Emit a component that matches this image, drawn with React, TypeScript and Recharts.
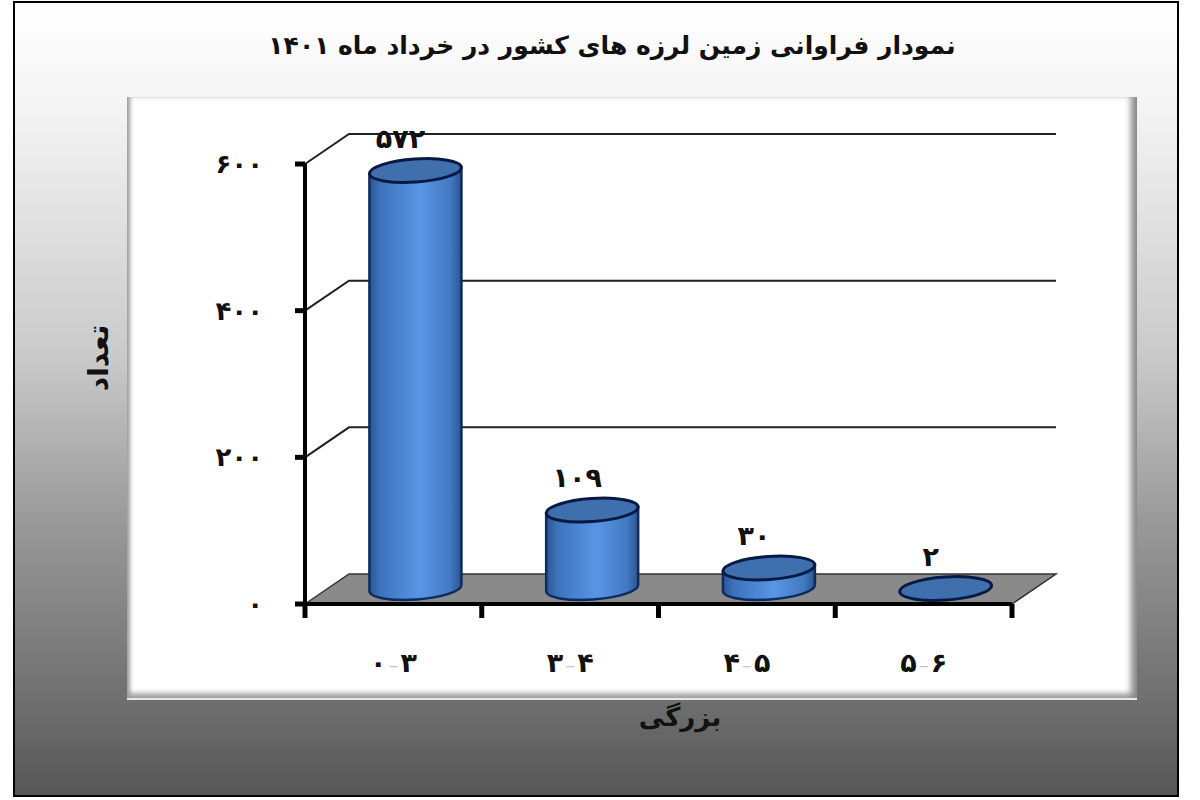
import React from "react";
import { BarChart, Bar, XAxis, YAxis, CartesianGrid, LabelList, Label } from "recharts";

const categories = ["۰-۳", "۳-۴", "۴-۵", "۵-۶"];
const counts = [572, 109, 30, 2];
const countLabels = ["۵۷۲", "۱۰۹", "۳۰", "۲"];
const yTicks = [0, 200, 400, 600];
const yTickLabels = ["۰", "۲۰۰", "۴۰۰", "۶۰۰"];
const titleText = "نمودار فراوانی زمین لرزه های کشور در خرداد ماه ۱۴۰۱";
const xTitle = "بزرگی";
const yTitle = "تعداد";

const data = categories.map((c, i) => ({ category: c, count: counts[i] }));

const FONT = "'DejaVu Sans', sans-serif";
const DX = 44;
const DY = 30;

function Grid(props: any) {
  const { x1, x2, y1, y2, index } = props;
  const isFloor = y1 > 600;
  if (isFloor) {
    const n = categories.length;
    const step = (x2 - x1) / n;
    return (
      <g key={`floor-${index}`}>
        <polygon
          points={`${x1},${y1} ${x1 + DX},${y1 - DY} ${x2 + DX},${y1 - DY} ${x2},${y2}`}
          fill="#8a8a8a"
          stroke="#333"
          strokeWidth={1.5}
        />
        {Array.from({ length: n + 1 }).map((_, i) => (
          <line
            key={i}
            x1={x1 + step * i}
            x2={x1 + step * i}
            y1={y1}
            y2={y1 + 14}
            stroke="#000"
            strokeWidth={5}
          />
        ))}
      </g>
    );
  }
  return (
    <path
      key={`wall-${index}`}
      d={`M${x1},${y1} L${x1 + DX},${y1 - DY} L${x2 + DX},${y1 - DY}`}
      fill="none"
      stroke="#222"
      strokeWidth={2}
    />
  );
}

function Cylinder(props: any) {
  const { x, y, width, height } = props;
  const rx = width / 2;
  const ry = 11.5;
  const tilt = -4;
  const lift = rx * Math.sin((4 * Math.PI) / 180);
  const cx = x + rx + DX / 2;
  const top = y - DY / 2 + 1;
  const bottom = y + height - DY / 2 - 1;
  return (
    <g>
      <path
        d={`M${cx - rx},${top + lift} L${cx - rx},${bottom + lift} A${rx},${ry} ${tilt} 0 0 ${cx + rx},${bottom - lift} L${cx + rx},${top - lift} Z`}
        fill="url(#cylBody)"
        stroke="#0f2a5c"
        strokeWidth={2.5}
      />
      <ellipse
        cx={cx}
        cy={top}
        rx={rx}
        ry={ry}
        transform={`rotate(${tilt} ${cx} ${top})`}
        fill="#3f70ad"
        stroke="#071a45"
        strokeWidth={3}
      />
    </g>
  );
}

function XTick(props: any) {
  const { x, y, payload } = props;
  const [a, b] = String(payload.value).split("-");
  return (
    <text x={x} y={y + 60} textAnchor="middle" direction="ltr" fontFamily={FONT} fontWeight="bold" fontSize={27} fill="#111">
      <tspan>{a}</tspan>
      <tspan fill="#c4c4c4" fontWeight="normal" fontSize={20} dx={2}>–</tspan>
      <tspan dx={2}>{b}</tspan>
    </text>
  );
}

function YTick(props: any) {
  const { x, y, payload } = props;
  const label = yTickLabels[yTicks.indexOf(payload.value)];
  return (
    <text x={x - 30} y={y} dy={9} textAnchor="end" fontFamily={FONT} fontWeight="bold" fontSize={26} letterSpacing={2} fill="#111">
      {label}
    </text>
  );
}

function CountLabel(props: any) {
  const { x, y, width, index } = props;
  return (
    <text x={x + width / 2 + 7} y={y - 37} textAnchor="middle" fontFamily={FONT} fontWeight="bold" fontSize={27} letterSpacing={2} fill="#111">
      {countLabels[index]}
    </text>
  );
}

export default function App() {
  return (
    <div style={{ position: "absolute", left: 0, top: 0, width: 1200, height: 800, background: "#fff", overflow: "hidden" }}>
      <div
        style={{
          position: "absolute",
          left: 13,
          top: 1,
          width: 1166,
          height: 796,
          boxSizing: "border-box",
          border: "2px solid #000",
          background:
            "linear-gradient(180deg, #ffffff 0%, #f3f3f3 14%, #c9c9c9 45%, #9a9a9a 65%, #6f6f6f 88%, #575757 100%)",
        }}
      />
      <div
        style={{
          position: "absolute",
          left: 127,
          top: 97,
          width: 1010,
          height: 603,
          boxSizing: "border-box",
          background: "#fff",
          borderBottom: "2px solid #e8e8e8",
          boxShadow:
            "inset 5px 0 4px -2px #9a9a9a, inset -9px 0 6px -3px #8a8a8a, inset 0 -8px 5px -3px #a8a8a8",
        }}
      />
      <div style={{ position: "absolute", left: 0, top: 0 }}>
        <BarChart
          width={1200}
          height={800}
          data={data}
          margin={{ top: 164, right: 188, bottom: 76, left: 75 }}
          barCategoryGap="24%"
          style={{ background: "transparent" }}
        >
          <defs>
            <linearGradient id="cylBody" x1="0" y1="0" x2="1" y2="0">
              <stop offset="0%" stopColor="#2a5796" />
              <stop offset="12%" stopColor="#3d72bc" />
              <stop offset="55%" stopColor="#5896e4" />
              <stop offset="88%" stopColor="#4279c2" />
              <stop offset="100%" stopColor="#2a5590" />
            </linearGradient>
          </defs>
          <text x={612} y={54} textAnchor="middle" fontFamily={FONT} fontWeight="bold" fontSize={25} fill="#111" direction="rtl">
            {titleText}
          </text>
          <CartesianGrid horizontal={Grid} vertical={false} />
          <XAxis
            dataKey="category"
            height={120}
            tick={XTick}
            tickLine={false}
            axisLine={{ stroke: "#000", strokeWidth: 4 }}
            interval={0}
          >
            <Label
              content={(p: any) => (
                <text x={680} y={p.viewBox.y + 122} textAnchor="middle" fontFamily={FONT} fontWeight="bold" fontSize={26} fill="#111" direction="rtl">
                  {xTitle}
                </text>
              )}
            />
          </XAxis>
          <YAxis
            width={230}
            domain={[0, 600]}
            ticks={yTicks}
            tick={YTick}
            tickSize={10}
            tickLine={{ stroke: "#000", strokeWidth: 5 }}
            axisLine={{ stroke: "#000", strokeWidth: 4 }}
          >
            <Label
              content={(p: any) => (
                <text
                  transform={`translate(${p.viewBox.x + 33},358) rotate(-90)`}
                  textAnchor="middle"
                  fontFamily={FONT}
                  fontWeight="bold"
                  fontSize={28}
                  fill="#111"
                  direction="rtl"
                >
                  {yTitle}
                </text>
              )}
            />
          </YAxis>
          <Bar dataKey="count" isAnimationActive={false} shape={Cylinder}>
            <LabelList dataKey="count" content={CountLabel} />
          </Bar>
        </BarChart>
      </div>
    </div>
  );
}
